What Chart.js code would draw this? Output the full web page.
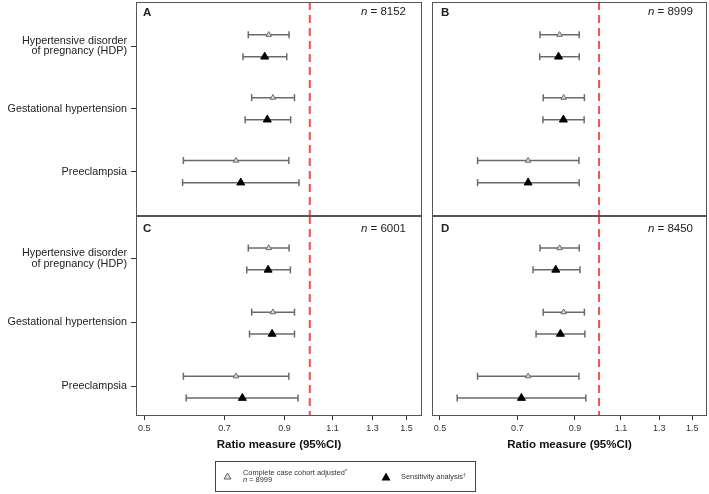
<!DOCTYPE html>
<html>
<head>
<meta charset="utf-8">
<script src="https://cdn.jsdelivr.net/npm/chart.js@4.4.1/dist/chart.umd.min.js"></script>
<style>
  html, body { margin: 0; padding: 0; background: #fff; overflow: hidden; }
  #wrap { position: relative; width: 709px; height: 494px; font-family: "Liberation Sans", Arial, sans-serif; color: #222; }
  canvas { position: absolute; }
  .lab { position: absolute; font-size: 11.5px; line-height: 12px; white-space: nowrap; }
  .letter { font-weight: bold; }
  #legend { position: absolute; left: 215px; top: 461px; width: 259px; height: 29px; border: 1px solid #444; font-size: 7.4px; line-height: 8px; color: #333; will-change: transform; -webkit-font-smoothing: antialiased; }
  #legend div, #legend svg { position: absolute; white-space: nowrap; }
  sup { font-size: 5px; vertical-align: top; line-height: 5px; }
</style>
</head>
<body>
<div id="wrap">
  <canvas id="cA" width="425" height="218" style="left:0;top:0"></canvas>
  <canvas id="cB" width="279" height="218" style="left:430px;top:0"></canvas>
  <canvas id="cC" width="425" height="242" style="left:0;top:214px"></canvas>
  <canvas id="cD" width="279" height="242" style="left:430px;top:214px"></canvas>

  <div class="lab letter" style="left:143px;top:6px">A</div>
  <div class="lab" style="right:303px;top:5px"><i>n</i> = 8152</div>
  <div class="lab letter" style="left:441px;top:6px">B</div>
  <div class="lab" style="right:16px;top:5px"><i>n</i> = 8999</div>
  <div class="lab letter" style="left:143px;top:222px">C</div>
  <div class="lab" style="right:303px;top:222px"><i>n</i> = 6001</div>
  <div class="lab letter" style="left:441px;top:222px">D</div>
  <div class="lab" style="right:16px;top:222px"><i>n</i> = 8450</div>

  <div id="legend">
    <svg width="9" height="8" style="left:7px;top:10px"><polygon points="4.5,1 8,7 1,7" fill="#ddd" stroke="#666" stroke-width="1"/></svg>
    <div style="left:27px;top:7px">Complete case cohort adjusted<sup>*</sup></div>
    <div style="left:27px;top:14px"><i>n</i> = 8999</div>
    <svg width="10" height="9" style="left:165px;top:10px"><polygon points="5,0.5 9.5,8.5 0.5,8.5" fill="#000"/></svg>
    <div style="left:185px;top:11px">Sensitivity analysis<sup>†</sup></div>
  </div>
</div>
<script>
// ---- data ----
const categories = [['Hypertensive disorder', 'of pregnancy (HDP)'], 'Gestational hypertension', 'Preeclampsia'];
const xTicks = [0.5, 0.7, 0.9, 1.1, 1.3, 1.5];
const refValue = 1.0;

// Complete case cohort adjusted (n = 8999), same in every panel
const adjEst = [0.842, 0.857, 0.734];
const adjLo  = [0.773, 0.784, 0.589];
const adjHi  = [0.917, 0.938, 0.916];

// Sensitivity analyses
const sensEstA = [0.828, 0.837, 0.749];
const sensLoA  = [0.756, 0.763, 0.587];
const sensHiA  = [0.908, 0.923, 0.956];

const sensEstB = [0.838, 0.856, 0.734];
const sensLoB  = [0.772, 0.783, 0.589];
const sensHiB  = [0.917, 0.937, 0.917];

const sensEstC = [0.840, 0.854, 0.754];
const sensLoC  = [0.768, 0.777, 0.596];
const sensHiC  = [0.922, 0.938, 0.952];

const sensEstD = [0.828, 0.845, 0.713];
const sensLoD  = [0.750, 0.760, 0.539];
const sensHiD  = [0.920, 0.940, 0.944];

// ---- drawing ----
const FONT = '"Liberation Sans", Arial, sans-serif';
const BAR_COLOR = '#6a6a6a';

const framePlugin = {
  id: 'frame',
  afterDatasetsDraw(chart) {
    const a = chart.chartArea, ctx = chart.ctx;
    ctx.save();
    ctx.strokeStyle = '#555';
    ctx.lineWidth = 1;
    ctx.strokeRect(Math.round(a.left) + 0.5, Math.round(a.top) + 0.5, Math.round(a.right - a.left) - 1, Math.round(a.bottom - a.top) - 1);
    ctx.restore();
  }
};

function zeroPad(s) { s.paddingTop = 0; s.paddingBottom = 0; s.paddingLeft = 0; s.paddingRight = 0; }

function makePanel(id, opt) {
  const datasets = [];
  const {sEst, sLo, sHi, yMin, yMax, offAdj, offSens} = opt;
  datasets.push({
    type: 'line', data: [{x: refValue, y: yMin}, {x: refValue, y: yMax}],
    borderColor: '#ef4f55', borderWidth: 2, borderDash: [8, 5],
    pointRadius: 0, showLine: true, order: 3
  });
  categories.forEach((c, i) => {
    const yA = i + 1 + offAdj, yS = i + 1 + offSens;
    [[adjLo[i], adjHi[i], yA], [sLo[i], sHi[i], yS]].forEach(([lo, hi, y]) => {
      datasets.push({
        type: 'line', data: [{x: lo, y: y}, {x: hi, y: y}],
        borderColor: BAR_COLOR, borderWidth: 1.5, showLine: true,
        pointStyle: 'line', pointRotation: 90, pointRadius: 3.5,
        pointBorderColor: BAR_COLOR, pointBorderWidth: 1.5, order: 2
      });
    });
  });
  datasets.push({
    type: 'scatter', data: adjEst.map((v, i) => ({x: v, y: i + 1 + offAdj})),
    pointStyle: 'triangle', pointRadius: 3.2, backgroundColor: '#d8d8d8',
    borderColor: '#6a6a6a', borderWidth: 1, order: 1
  });
  datasets.push({
    type: 'scatter', data: sEst.map((v, i) => ({x: v, y: i + 1 + offSens})),
    pointStyle: 'triangle', pointRadius: 4.6, backgroundColor: '#000',
    borderColor: '#000', borderWidth: 1, order: 0
  });

  new Chart(document.getElementById(id), {
    type: 'scatter',
    data: {datasets},
    plugins: [framePlugin],
    options: {
      responsive: false, animation: false, devicePixelRatio: 1,
      layout: {padding: opt.padding, autoPadding: false},
      plugins: {legend: {display: false}, tooltip: {enabled: false}},
      scales: {
        x: {
          type: 'logarithmic', min: 0.483, max: 1.60, display: opt.showX,
          afterBuildTicks: ax => { ax.ticks = xTicks.map(v => ({value: v})); },
          afterFit: s => { s.height = opt.showX ? 40 : 0; zeroPad(s); },
          grid: {display: true, drawOnChartArea: false, drawTicks: true, tickLength: 4, color: '#333'},
          border: {display: false},
          ticks: {autoSkip: false, maxRotation: 0, padding: 3, color: '#333',
                  font: {family: FONT, size: 9}, callback: v => Number(v).toFixed(1)},
          title: {display: true, text: 'Ratio measure (95%CI)', color: '#111',
                  font: {family: FONT, size: 11.5, weight: 'bold'}, padding: {top: 0, bottom: 4}}
        },
        y: {
          type: 'linear', reverse: true, min: yMin, max: yMax, display: opt.showY,
          afterBuildTicks: ax => { ax.ticks = categories.map((c, i) => ({value: i + 1})); },
          afterFit: s => { s.width = opt.showY ? 136 : 0; zeroPad(s); },
          grid: {display: true, drawOnChartArea: false, drawTicks: true, tickLength: 5, color: '#333'},
          border: {display: false},
          ticks: {autoSkip: false, padding: 4, color: '#222',
                  font: {family: FONT, size: 10.8, lineHeight: 1.0},
                  callback: v => categories[Math.round(v) - 1]}
        }
      }
    }
  });
}

makePanel('cA', {sEst: sensEstA, sLo: sensLoA, sHi: sensHiA, yMin: 0.3, yMax: 3.7, offAdj: -0.18, offSens: 0.17,
  showX: false, showY: true, padding: {top: 2, right: 3, bottom: 2, left: 0}});
makePanel('cB', {sEst: sensEstB, sLo: sensLoB, sHi: sensHiB, yMin: 0.3, yMax: 3.7, offAdj: -0.18, offSens: 0.17,
  showX: false, showY: false, padding: {top: 2, right: 2, bottom: 2, left: 2}});
makePanel('cC', {sEst: sensEstC, sLo: sensLoC, sHi: sensHiC, yMin: 0.34, yMax: 3.46, offAdj: -0.16, offSens: 0.18,
  showX: true, showY: true, padding: {top: 2, right: 3, bottom: 0, left: 0}});
makePanel('cD', {sEst: sensEstD, sLo: sensLoD, sHi: sensHiD, yMin: 0.34, yMax: 3.46, offAdj: -0.16, offSens: 0.18,
  showX: true, showY: false, padding: {top: 2, right: 2, bottom: 0, left: 2}});
</script>
</body>
</html>
